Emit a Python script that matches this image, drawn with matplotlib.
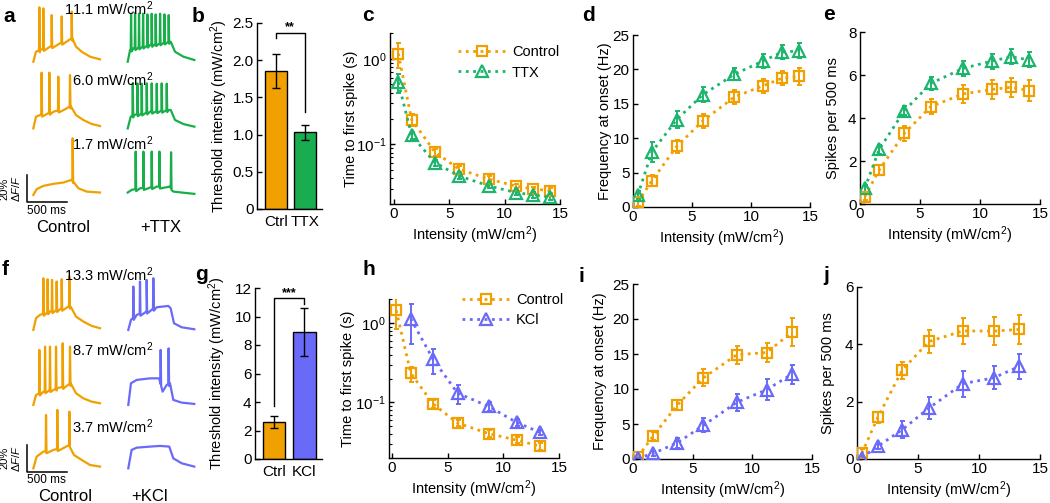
import matplotlib.pyplot as plt
import numpy as np

W, H = 1050, 503

ORANGE = "#F0A000"
GREEN = "#1DB56E"
GREEN_TR = "#18AF4B"
BLUE = "#6A6AF8"

plt.rcParams["font.family"] = ["Liberation Sans", "DejaVu Sans"]
plt.rcParams["mathtext.fontset"] = "custom"
plt.rcParams["mathtext.rm"] = "Liberation Sans"
plt.rcParams["mathtext.it"] = "Liberation Sans:italic"
plt.rcParams["axes.linewidth"] = 1.0

# ---------------------------------------------------------------------------
# Data

INT_TOP = [0.4, 1.6, 3.7, 5.9, 8.6, 11.0, 12.6, 14.1]
INT_BOT = [0.4, 1.7, 3.7, 5.9, 8.7, 11.2, 13.3]

# b: threshold, Ctrl vs TTX
THR_TTX_LABELS = ["Ctrl", "TTX"]
THR_TTX = [1.85, 1.03]
THR_TTX_ERR = [0.23, 0.10]

# c: latency to first spike (s)
LAT_CTRL_TOP = [1.15, 0.194, 0.081, 0.051, 0.039, 0.0325, 0.030, 0.0286]
LAT_CTRL_TOP_ERR = [0.38, 0.03, 0.008, 0.004, 0.003, 0.002, 0.002, 0.002]
LAT_TTX = [0.53, 0.127, 0.061, 0.0425, 0.0325, 0.0272, 0.0255, 0.024]
LAT_TTX_ERR = [0.13, 0.012, 0.005, 0.003, 0.002, 0.002, 0.002, 0.002]

# d: frequency at onset (Hz)
FREQ_CTRL_TOP = [0.7, 3.8, 8.8, 12.5, 16.0, 17.6, 18.7, 19.0]
FREQ_CTRL_TOP_ERR = [0.5, 0.8, 1.0, 1.0, 1.0, 1.0, 1.0, 1.2]
FREQ_TTX = [1.7, 8.0, 12.7, 16.3, 19.3, 21.2, 22.5, 22.7]
FREQ_TTX_ERR = [0.6, 1.4, 1.2, 1.1, 0.9, 1.0, 1.0, 1.1]

# e: spikes per 500 ms
SPK_CTRL_TOP = [0.34, 1.58, 3.29, 4.53, 5.12, 5.33, 5.43, 5.27]
SPK_CTRL_TOP_ERR = [0.15, 0.25, 0.35, 0.35, 0.4, 0.45, 0.45, 0.5]
SPK_TTX = [0.73, 2.54, 4.34, 5.61, 6.31, 6.65, 6.85, 6.7]
SPK_TTX_ERR = [0.15, 0.2, 0.2, 0.3, 0.35, 0.35, 0.35, 0.35]

# g: threshold, Ctrl vs KCl
THR_KCL_LABELS = ["Ctrl", "KCl"]
THR_KCL = [2.6, 8.9]
THR_KCL_ERR = [0.4, 1.7]

# h: latency, KCl has no point at the lowest intensity
LAT_CTRL_BOT = [1.44, 0.233, 0.096, 0.055, 0.0406, 0.0335, 0.0282]
LAT_CTRL_BOT_ERR = [0.6, 0.05, 0.01, 0.005, 0.004, 0.003, 0.003]
LAT_KCL = [1.13, 0.35, 0.131, 0.089, 0.056, 0.042]
LAT_KCL_ERR = [0.58, 0.12, 0.035, 0.012, 0.005, 0.003]

# i
FREQ_CTRL_BOT = [0.3, 3.3, 7.7, 11.6, 14.9, 15.2, 18.1]
FREQ_CTRL_BOT_ERR = [0.3, 0.6, 0.7, 1.2, 1.3, 1.4, 2.0]
FREQ_KCL = [0.1, 0.8, 2.3, 4.8, 8.1, 9.9, 12.1]
FREQ_KCL_ERR = [0.1, 0.3, 0.7, 1.0, 1.2, 1.5, 1.4]

# j
SPK_CTRL_BOT = [0.2, 1.45, 3.1, 4.1, 4.47, 4.46, 4.52]
SPK_CTRL_BOT_ERR = [0.15, 0.2, 0.3, 0.4, 0.45, 0.5, 0.5]
SPK_KCL = [0.05, 0.44, 1.02, 1.78, 2.63, 2.83, 3.23]
SPK_KCL_ERR = [0.05, 0.1, 0.3, 0.4, 0.45, 0.4, 0.45]

# Example fluorescence traces: envelope (ms, %dF/F) + spike times / peaks
A_CTRL_HI = ([0, 33, 82, 205, 328, 451, 480, 525, 595, 697, 820],
             [0, 7.5, 8.8, 11.3, 13.8, 16.8, 17.5, 11.3, 7.5, 3.8, 1.8],
             [74, 123, 226, 349, 472], [40.8, 40, 35, 34, 37.5])
A_TTX_HI = ([0, 29, 70, 275, 500, 529, 582, 684, 820],
            [0, 8.8, 10, 12.5, 15, 15, 7.5, 3.8, 1.3],
            [41, 90, 139, 189, 242, 295, 344, 398, 451, 504],
            [36, 36.5, 36, 36, 35.5, 36, 35.5, 36, 35.5, 35])
A_CTRL_MID = ([0, 33, 82, 246, 410, 459, 525, 615, 718, 820],
              [0, 8.8, 10, 12.5, 15, 16.8, 10, 6.3, 3.3, 1.8],
              [102, 197, 307, 451], [41.8, 41.8, 38.8, 40])
A_TTX_MID = ([0, 37, 70, 275, 500, 529, 582, 684, 820],
             [0, 8.8, 10, 12.5, 13.8, 13.8, 6.3, 3.3, 1.3],
             [62, 119, 172, 234, 295, 357, 418, 480],
             [33.8, 33.8, 33.5, 33.8, 33.8, 33.5, 33.8, 33.5])
A_CTRL_LO = ([0, 41, 123, 246, 369, 471, 500, 554, 656, 820],
             [0, 4.3, 6.8, 8.3, 9.3, 11.3, 9.3, 5, 2.5, 1.8],
             [484], [42.5])
A_TTX_LO = ([0, 49, 152, 357, 521, 562, 664, 820],
            [1.8, 3.8, 5, 6.3, 6.3, 2.5, 1.8, 0.8],
            [98, 193, 295, 390, 533], [32.5, 32.5, 32.5, 32.5, 32])

F_CTRL_HI = ([0, 33, 82, 205, 328, 430, 459, 525, 615, 718, 820],
             [0, 8.8, 11.3, 13.8, 15.5, 17.5, 17.5, 10, 6.3, 3, 1.3],
             [123, 176, 230, 287, 349, 443], [38.8, 38, 37.5, 36.3, 38, 40])
F_KCL_HI = ([0, 33, 103, 226, 349, 492, 521, 562, 656, 812],
            [0, 7.5, 11.3, 13.8, 17, 18, 16.3, 5, 2, 0.5],
            [62, 144, 226, 308], [32.5, 36.3, 37.5, 38.8])
F_CTRL_MID = ([0, 33, 123, 287, 410, 459, 525, 615, 718, 820],
              [0, 7.5, 10, 12.5, 14.3, 16.3, 8.8, 5, 2.5, 1.3],
              [74, 144, 205, 279, 361, 451], [41.3, 43.8, 43.8, 43.8, 46.3, 43.8])
F_KCL_MID = ([0, 33, 103, 267, 381, 422, 472, 513, 554, 656, 812],
             [0, 16.3, 18.8, 20, 20, 10, 15, 16.3, 3.8, 1.8, 0.8],
             [398, 496], [41.3, 42.5])
F_CTRL_LO = ([0, 41, 123, 246, 389, 443, 500, 595, 697, 820],
             [0, 8.8, 12.5, 13.8, 15.8, 17.5, 10, 6.3, 2.5, 1.3],
             [156, 295, 443], [40, 43.8, 42.5])
F_KCL_LO = ([0, 41, 103, 267, 390, 504, 554, 656, 812],
            [0, 13.8, 15.5, 16.3, 16.8, 16.3, 7.5, 3.8, 1.3],
            [], [])


# ---------------------------------------------------------------------------
# Helpers

def px_axes(fig, left, top, right, bottom):
    """Add axes given a box in pixel coordinates (origin top-left)."""
    return fig.add_axes([left / W, 1 - bottom / H, (right - left) / W, (bottom - top) / H])


def style(ax):
    for s in ("top", "right"):
        ax.spines[s].set_visible(False)
    ax.tick_params(direction="in", length=3.5, width=1, labelsize=11, pad=2.5)
    ax.tick_params(which="minor", direction="in", length=2, width=0.8)


def curve(ax, x, y, err, color, marker, label, ms):
    ax.errorbar(x, y, yerr=err, fmt="none", ecolor=color, elinewidth=1.4,
                capsize=1.8, capthick=1.4, zorder=2)
    line, = ax.plot(x, y, ls=":", lw=2.0, color=color, marker=marker, ms=ms,
                    mfc="none", mec=color, mew=1.6, label=label, zorder=3)
    return line


def trace_line(tr):
    env_t, env_v, spk_t, spk_v = tr
    t = list(env_t)
    v = list(env_v)
    base = np.interp(spk_t, env_t, env_v)
    for st, b, pk in zip(spk_t, base, spk_v):
        t += [st - 4, st, st + 6]
        v += [b, pk, b - 1.5]
    order = np.argsort(t, kind="stable")
    return np.asarray(t)[order], np.asarray(v)[order]


def draw_traces(ax, traces, col_off, row_off, colors):
    for (tr, c, r, colr) in zip(traces, col_off, row_off, colors):
        t, v = trace_line(tr)
        ax.plot(t + c, v + r, color=colr, lw=1.6, solid_joinstyle="round")


def trace_panel(fig, top, bottom, traces, rows, cols, colors, labels,
                label_y, bar_y, names, name_x, name_y, ms_y):
    ax = px_axes(fig, 0, top, 200, bottom)
    ax.set_xlim(-410, 2050)
    ax.set_ylim(0, (bottom - top) * 0.75)
    ax.axis("off")
    draw_traces(ax, traces, cols, rows, colors)
    for lab, y in zip(labels, label_y):
        ax.text(1476, y, lab, ha="right", va="center", fontsize=10.5)
    # scale bar: 20 % dF/F, 500 ms
    ax.plot([-82, -82, 418], [bar_y + 20, bar_y, bar_y], color="k", lw=1.1)
    ax.text(-358, bar_y + 10, "20%", rotation=90, ha="center", va="center", fontsize=8)
    ax.text(-215, bar_y + 10, r"$\Delta F/F$", rotation=90, ha="center", va="center",
            fontsize=8)
    ax.text(164, ms_y, "500 ms", ha="center", va="center", fontsize=8.5)
    for nm, x in zip(names, name_x):
        ax.text(x, name_y, nm, ha="center", va="center", fontsize=12)
    return ax


def bar_panel(ax, labels, vals, errs, colors, ymax, yticks, fmt, bracket, stars, star_y):
    x = np.arange(len(vals))
    ax.bar(x, vals, width=0.75, color=colors, edgecolor="black", linewidth=1.0, zorder=2)
    ax.errorbar(x, vals, yerr=errs, fmt="none", ecolor="black", elinewidth=1.0,
                capsize=3.2, capthick=1.0, zorder=3)
    ax.plot([0, 0, 1, 1], bracket, color="black", lw=1.0, clip_on=False)
    ax.text(0.5, star_y, stars, ha="center", va="center", fontsize=9, fontweight="bold")
    ax.set_xlim(-0.64, 1.59)
    ax.set_ylim(0, ymax)
    ax.set_xticks(x)
    ax.set_xticklabels(labels)
    ax.set_yticks(yticks)
    ax.set_yticklabels([fmt(v) for v in yticks])
    style(ax)
    ax.tick_params(axis="x", length=0, pad=4)
    ax.set_ylabel("Threshold intensity (mW/cm$^2$)", fontsize=10.5)


def intensity_axis(ax, left=0):
    ax.set_xlim(left, 15)
    ax.set_xticks([0, 5, 10, 15])
    ax.set_xlabel("Intensity (mW/cm$^2$)", fontsize=10.5, labelpad=2)


# ---------------------------------------------------------------------------
# Figure

fig = plt.figure(figsize=(W / 100, H / 100), dpi=100)

# a / f : example traces
trace_panel(fig, 0, 240,
            [A_CTRL_HI, A_TTX_HI, A_CTRL_MID, A_TTX_MID, A_CTRL_LO, A_TTX_LO],
            [133.7, 133.7, 83.7, 83.7, 33.8, 33.8], [0, 1161] * 3,
            [ORANGE, GREEN_TR] * 3,
            ["11.1 mW/cm$^2$", "6.0 mW/cm$^2$", "1.7 mW/cm$^2$"],
            [173.5, 120.5, 72.5], 28.7, ["Control", "+TTX"], [365, 1570], 9, 22)
trace_panel(fig, 250, 503,
            [F_CTRL_HI, F_KCL_HI, F_CTRL_MID, F_KCL_MID, F_CTRL_LO, F_KCL_LO],
            [129.8, 129.8, 73.5, 73.5, 26, 26], [0, 1168] * 3,
            [ORANGE, BLUE] * 3,
            ["13.3 mW/cm$^2$", "8.7 mW/cm$^2$", "3.7 mW/cm$^2$"],
            [171, 115.3, 57.3], 23.5, ["Control", "+KCl"], [390, 1435], 5.2, 17.3)

# b
ax = px_axes(fig, 257, 23, 322, 209)
bar_panel(ax, THR_TTX_LABELS, THR_TTX, THR_TTX_ERR, [ORANGE, "#1AAD50"], 2.5,
          [0, 0.5, 1.0, 1.5, 2.0, 2.5], lambda v: "0" if v == 0 else f"{v:.1f}",
          [2.30, 2.37, 2.37, 1.30], "**", 2.45)
ax.yaxis.set_label_coords(-0.42, 0.5)

# g
ax = px_axes(fig, 255, 288, 322, 459)
bar_panel(ax, THR_KCL_LABELS, THR_KCL, THR_KCL_ERR, [ORANGE, BLUE], 12,
          [0, 2, 4, 6, 8, 10, 12], lambda v: f"{v:g}",
          [3.7, 11.28, 11.28, 10.9], "***", 11.62)
ax.yaxis.set_label_coords(-0.40, 0.5)

# c
ax = px_axes(fig, 390, 33, 560, 204)
l1 = curve(ax, INT_TOP, LAT_CTRL_TOP, LAT_CTRL_TOP_ERR, ORANGE, "s", "Control", 7)
l2 = curve(ax, INT_TOP, LAT_TTX, LAT_TTX_ERR, GREEN, "^", "TTX", 8)
ax.set_yscale("log")
ax.set_ylim(0.02, 2)
intensity_axis(ax, -0.35)
ax.set_ylabel("Time to first spike (s)", fontsize=10.5)
ax.yaxis.set_label_coords(-0.19, 0.5)
style(ax)
ax.legend(handles=[l1, l2], loc="upper left", bbox_to_anchor=(0.40, 0.93), frameon=False,
          fontsize=10.5, handlelength=3.3, borderpad=0, borderaxespad=0,
          labelspacing=0.45, handletextpad=0.4, numpoints=1)

# h
ax = px_axes(fig, 389, 299, 559, 458)
l1 = curve(ax, INT_BOT, LAT_CTRL_BOT, LAT_CTRL_BOT_ERR, ORANGE, "s", "Control", 7)
l2 = curve(ax, INT_BOT[1:], LAT_KCL, LAT_KCL_ERR, BLUE, "^", "KCl", 8)
ax.set_yscale("log")
ax.set_ylim(0.02, 2)
intensity_axis(ax, -0.25)
ax.set_ylabel("Time to first spike (s)", fontsize=10.5)
ax.yaxis.set_label_coords(-0.2, 0.5)
style(ax)
ax.legend(handles=[l1, l2], loc="upper left", bbox_to_anchor=(0.43, 1.04), frameon=False,
          fontsize=10.5, handlelength=3.3, borderpad=0, borderaxespad=0,
          labelspacing=0.45, handletextpad=0.4, numpoints=1)

# d
ax = px_axes(fig, 633, 35, 810, 207)
curve(ax, INT_TOP, FREQ_CTRL_TOP, FREQ_CTRL_TOP_ERR, ORANGE, "s", "Control", 7)
curve(ax, INT_TOP, FREQ_TTX, FREQ_TTX_ERR, GREEN, "^", "TTX", 8)
ax.set_ylim(0, 25)
ax.set_yticks([0, 5, 10, 15, 20, 25])
intensity_axis(ax)
ax.set_ylabel("Frequency at onset (Hz)", fontsize=10.5)
ax.yaxis.set_label_coords(-0.12, 0.5)
style(ax)

# e
ax = px_axes(fig, 860, 32, 1040, 204)
curve(ax, INT_TOP, SPK_CTRL_TOP, SPK_CTRL_TOP_ERR, ORANGE, "s", "Control", 7)
curve(ax, INT_TOP, SPK_TTX, SPK_TTX_ERR, GREEN, "^", "TTX", 8)
ax.set_ylim(0, 8)
ax.set_yticks([0, 2, 4, 6, 8])
intensity_axis(ax)
ax.set_ylabel("Spikes per 500 ms", fontsize=10.5)
ax.yaxis.set_label_coords(-0.11, 0.5)
style(ax)

# i
ax = px_axes(fig, 633, 284, 812, 459)
curve(ax, INT_BOT, FREQ_CTRL_BOT, FREQ_CTRL_BOT_ERR, ORANGE, "s", "Control", 7)
curve(ax, INT_BOT, FREQ_KCL, FREQ_KCL_ERR, BLUE, "^", "KCl", 8)
ax.set_ylim(0, 25)
ax.set_yticks([0, 5, 10, 15, 20, 25])
intensity_axis(ax)
ax.set_ylabel("Frequency at onset (Hz)", fontsize=10.5)
ax.yaxis.set_label_coords(-0.145, 0.5)
style(ax)

# j
ax = px_axes(fig, 857, 287, 1040, 459)
curve(ax, INT_BOT, SPK_CTRL_BOT, SPK_CTRL_BOT_ERR, ORANGE, "s", "Control", 7)
curve(ax, INT_BOT, SPK_KCL, SPK_KCL_ERR, BLUE, "^", "KCl", 8)
ax.set_ylim(0, 6)
ax.set_yticks([0, 2, 4, 6])
intensity_axis(ax)
ax.set_ylabel("Spikes per 500 ms", fontsize=10.5)
ax.yaxis.set_label_coords(-0.12, 0.5)
style(ax)

# panel letters
for letter, x, y in [("a", 3, 22), ("b", 192, 22), ("c", 362, 21), ("d", 582, 21),
                     ("e", 823, 20), ("f", 2, 275), ("g", 195, 280), ("h", 362, 275),
                     ("i", 579, 282), ("j", 823, 281)]:
    fig.text(x / W, 1 - y / H, letter, fontsize=15, fontweight="bold", va="baseline")

fig.savefig("out.png", dpi=100)
